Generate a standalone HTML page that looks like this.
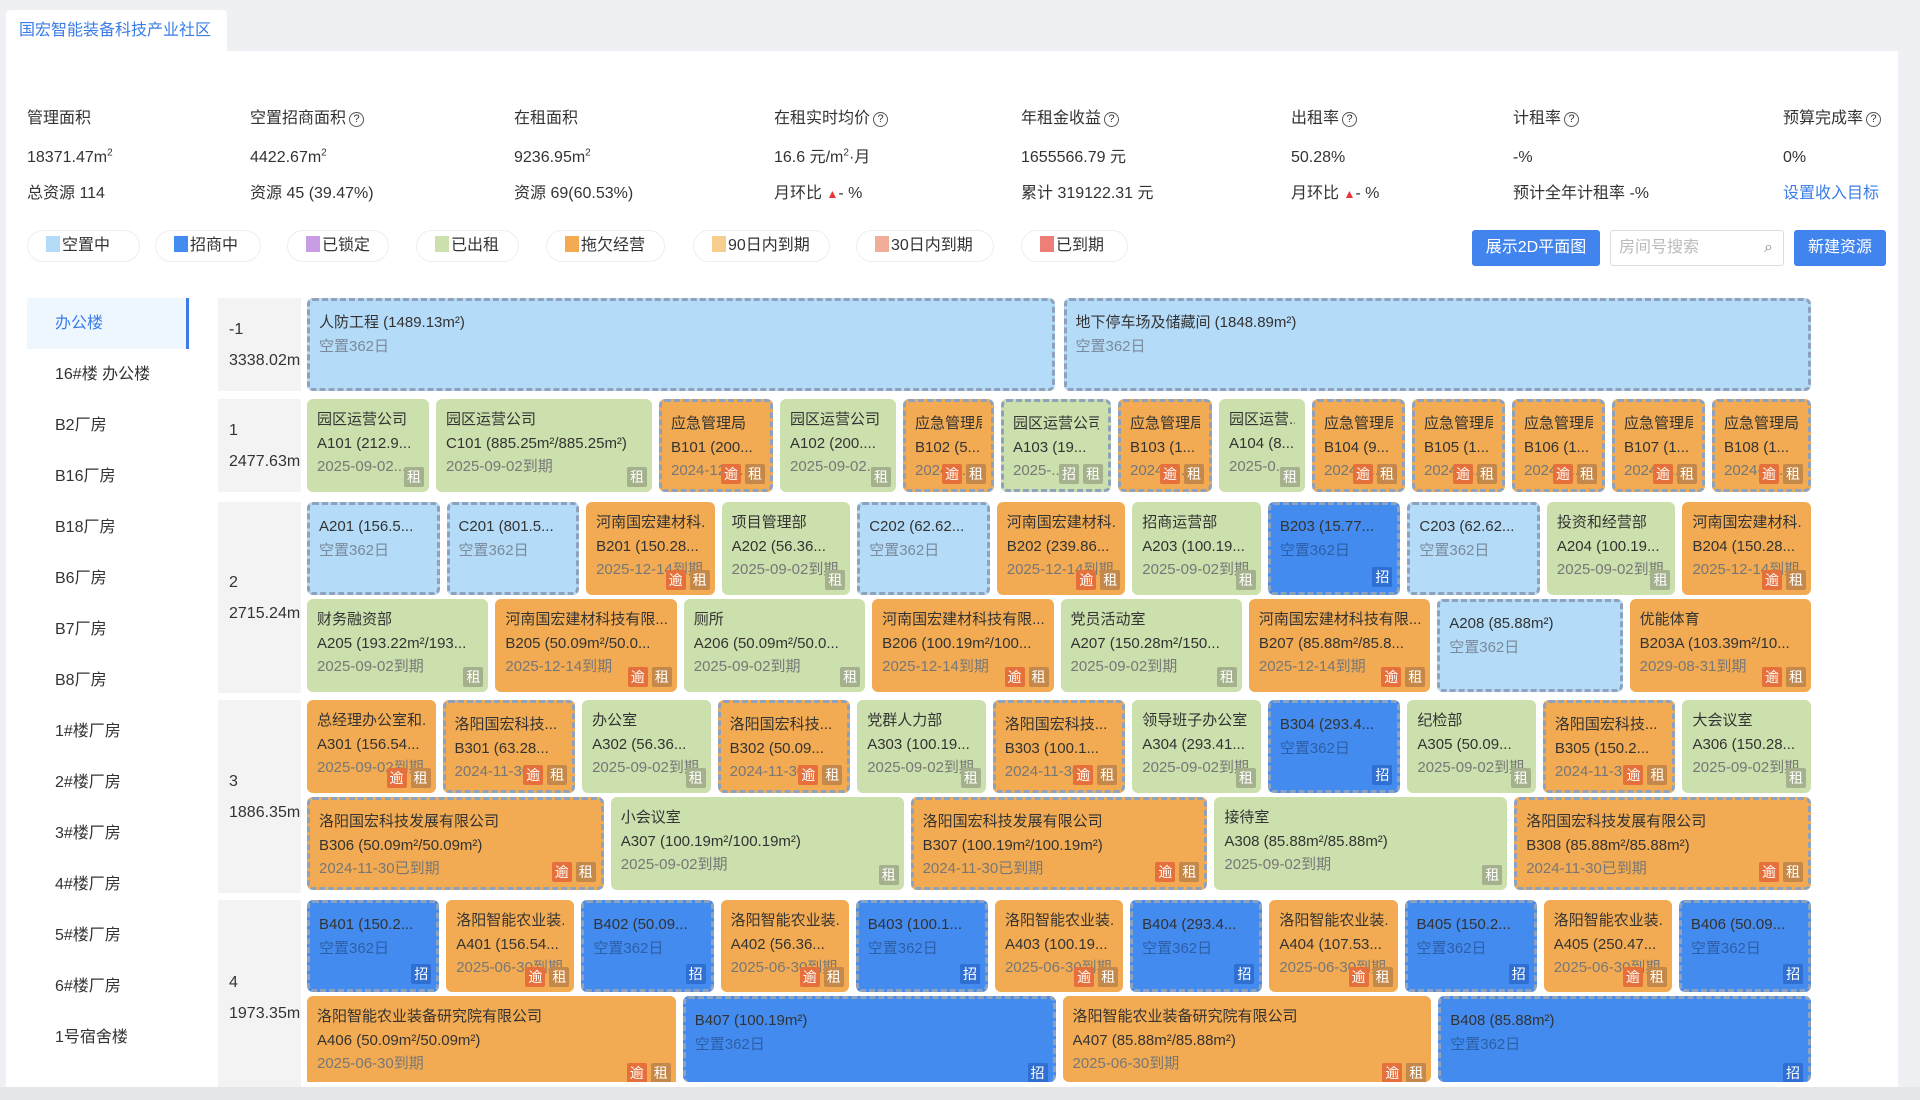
<!DOCTYPE html>
<html><head><meta charset="utf-8">
<style>
*{box-sizing:border-box;margin:0;padding:0}
body{width:1920px;height:1100px;overflow:hidden;background:#eef0f4;font-family:"Liberation Sans","Noto Sans CJK SC",sans-serif;color:#333;position:relative}
.abs{position:absolute}
#panel{left:6px;top:51px;width:1892px;height:1036px;background:#fff}
#tab{left:6px;top:10px;width:221px;height:42px;background:#fff;border-radius:4px 4px 0 0;color:#3a7de8;font-size:16px;line-height:42px;padding-left:13px}
.st{font-size:16px;color:#333;white-space:nowrap;line-height:20px;height:20px}
.st sup{line-height:0;font-size:10px}
.q{display:inline-block;width:15px;height:15px;border:1.3px solid #555;border-radius:50%;font-size:11px;line-height:13px;text-align:center;vertical-align:1px;margin-left:3px}
.up{color:#e33;font-size:12px}
.chip{top:230px;height:32px;border:1px solid #eee;border-radius:16px;font-size:16px;line-height:30px;padding-left:18px;white-space:nowrap}
.chip i{display:inline-block;width:14px;height:16px;vertical-align:-2px;margin-right:2px}
.btn{top:230px;height:36px;background:#4284ee;color:#fff;border-radius:3px;font-size:16px;line-height:36px;text-align:center}
.side{left:27px;width:162px;height:51px;font-size:16px;line-height:51px;padding-left:28px;color:#333}
.lab{left:218px;width:83px;background:#f3f3f3;font-size:16px;line-height:31px;padding-left:11px;display:flex;flex-direction:column;justify-content:center;white-space:nowrap}
.row{left:307px;width:1504px;height:93px;display:flex;gap:7px}
.c{position:relative;height:93px;border-radius:6px;padding:9px 10px 0 10px;font-size:15px;line-height:23.5px;overflow:hidden;white-space:nowrap;flex:1 1 0;min-width:0}
.c div{overflow:hidden;text-overflow:clip}
.c .t3{color:#777}
.g{background:#cbe0ad}
.o{background:#f2ab52}
.lb{background:#b4dbf8}
.b{background:#448bf0}
.d{border:3px dashed #8fa2bc;padding:10px 9px 0 9px}
.lb .t2,.b .t2{color:#7a8a9a}
.b .t2{color:#2b5fa8}
.bd{position:absolute;right:5px;bottom:5px;display:flex;gap:4px}
.bd span{width:20px;height:20px;border-radius:2px;color:#fff;font-size:14px;line-height:20px;text-align:center}
.y{background:#e5703c}
.z{background:#a5b08d}
.o .z{background:#c4894a}
.zs{background:#2f6fd2}
</style></head><body>
<div class="abs" id="panel"></div>
<div class="abs" id="tab">国宏智能装备科技产业社区</div>
<div class="abs" style="left:1898px;top:51px;width:22px;height:1049px;background:#eef0f4"></div>

<!-- stats -->
<div class="abs st" style="left:27px;top:109px">管理面积</div>
<div class="abs st" style="left:27px;top:148px">18371.47m<sup>2</sup></div>
<div class="abs st" style="left:27px;top:184px">总资源 114</div>
<div class="abs st" style="left:250px;top:109px">空置招商面积<span class="q">?</span></div>
<div class="abs st" style="left:250px;top:148px">4422.67m<sup>2</sup></div>
<div class="abs st" style="left:250px;top:184px">资源 45 (39.47%)</div>
<div class="abs st" style="left:514px;top:109px">在租面积</div>
<div class="abs st" style="left:514px;top:148px">9236.95m<sup>2</sup></div>
<div class="abs st" style="left:514px;top:184px">资源 69(60.53%)</div>
<div class="abs st" style="left:774px;top:109px">在租实时均价<span class="q">?</span></div>
<div class="abs st" style="left:774px;top:148px">16.6 元/m<sup>2</sup>·月</div>
<div class="abs st" style="left:774px;top:184px">月环比 <span class="up">▲</span>- %</div>
<div class="abs st" style="left:1021px;top:109px">年租金收益<span class="q">?</span></div>
<div class="abs st" style="left:1021px;top:148px">1655566.79 元</div>
<div class="abs st" style="left:1021px;top:184px">累计 319122.31 元</div>
<div class="abs st" style="left:1291px;top:109px">出租率<span class="q">?</span></div>
<div class="abs st" style="left:1291px;top:148px">50.28%</div>
<div class="abs st" style="left:1291px;top:184px">月环比 <span class="up">▲</span>- %</div>
<div class="abs st" style="left:1513px;top:109px">计租率<span class="q">?</span></div>
<div class="abs st" style="left:1513px;top:148px">-%</div>
<div class="abs st" style="left:1513px;top:184px">预计全年计租率 -%</div>
<div class="abs st" style="left:1783px;top:109px">预算完成率<span class="q">?</span></div>
<div class="abs st" style="left:1783px;top:148px">0%</div>
<div class="abs st" style="left:1783px;top:184px;color:#3a7de8">设置收入目标</div>

<!-- legend -->
<div class="abs chip" style="left:27px;width:113px"><i style="background:#b4dbf8"></i>空置中</div>
<div class="abs chip" style="left:155px;width:106px"><i style="background:#448bf0"></i>招商中</div>
<div class="abs chip" style="left:287px;width:102px"><i style="background:#c79ee6"></i>已锁定</div>
<div class="abs chip" style="left:416px;width:103px"><i style="background:#cbe0ad"></i>已出租</div>
<div class="abs chip" style="left:546px;width:119px"><i style="background:#f2ab52"></i>拖欠经营</div>
<div class="abs chip" style="left:693px;width:137px"><i style="background:#f6cf8e"></i>90日内到期</div>
<div class="abs chip" style="left:856px;width:138px"><i style="background:#f0ae96"></i>30日内到期</div>
<div class="abs chip" style="left:1021px;width:107px"><i style="background:#ee7f78"></i>已到期</div>
<div class="abs btn" style="left:1472px;width:128px">展示2D平面图</div>
<div class="abs" style="left:1610px;top:230px;width:174px;height:36px;border:1px solid #ddd;border-radius:3px;font-size:16px;line-height:34px;padding-left:8px;color:#bbb">房间号搜索<span style="position:absolute;right:10px;top:0;color:#888">&#x2315;</span></div>
<div class="abs btn" style="left:1794px;width:92px">新建资源</div>

<!-- sidebar -->
<div class="abs side" style="top:298px;background:#eef6fe;color:#3a7de8;border-right:3px solid #3a7de8">办公楼</div>
<div class="abs side" style="top:349px">16#楼 办公楼</div>
<div class="abs side" style="top:400px">B2厂房</div>
<div class="abs side" style="top:451px">B16厂房</div>
<div class="abs side" style="top:502px">B18厂房</div>
<div class="abs side" style="top:553px">B6厂房</div>
<div class="abs side" style="top:604px">B7厂房</div>
<div class="abs side" style="top:655px">B8厂房</div>
<div class="abs side" style="top:706px">1#楼厂房</div>
<div class="abs side" style="top:757px">2#楼厂房</div>
<div class="abs side" style="top:808px">3#楼厂房</div>
<div class="abs side" style="top:859px">4#楼厂房</div>
<div class="abs side" style="top:910px">5#楼厂房</div>
<div class="abs side" style="top:961px">6#楼厂房</div>
<div class="abs side" style="top:1012px">1号宿舍楼</div>

<!-- floor labels -->
<div class="abs lab" style="top:298px;height:93px"><div>-1</div><div>3338.02m</div></div>
<div class="abs lab" style="top:399px;height:93px"><div>1</div><div>2477.63m</div></div>
<div class="abs lab" style="top:502px;height:191px"><div>2</div><div>2715.24m</div></div>
<div class="abs lab" style="top:700px;height:193px"><div>3</div><div>1886.35m</div></div>
<div class="abs lab" style="top:900px;height:187px;padding-top:8px"><div>4</div><div>1973.35m</div></div>

<!-- floor -1 -->
<div class="abs row" style="top:298px;gap:9px">
<div class="c lb d"><div>人防工程 (1489.13m²)</div><div class="t2">空置362日</div></div>
<div class="c lb d"><div>地下停车场及储藏间 (1848.89m²)</div><div class="t2">空置362日</div></div>
</div>

<!-- floor 1 -->
<div class="abs row" style="top:399px">
<div class="c g" style="flex:0 0 122px"><div>园区运营公司</div><div>A101 (212.9...</div><div class="t3">2025-09-02...</div><div class="bd"><span class="z">租</span></div></div>
<div class="c g" style="flex:0 0 216px"><div>园区运营公司</div><div>C101 (885.25m²/885.25m²)</div><div class="t3">2025-09-02到期</div><div class="bd"><span class="z">租</span></div></div>
<div class="c o d" style="flex:0 0 114px"><div>应急管理局</div><div>B101 (200...</div><div class="t3">2024-12-3...</div><div class="bd"><span class="y">逾</span><span class="z">租</span></div></div>
<div class="c g" style="flex:0 0 116px"><div>园区运营公司</div><div>A102 (200....</div><div class="t3">2025-09-02...</div><div class="bd"><span class="z">租</span></div></div>
<div class="c o d" style="flex:0 0 91px"><div>应急管理局</div><div>B102 (5...</div><div class="t3">2024-1...</div><div class="bd"><span class="y">逾</span><span class="z">租</span></div></div>
<div class="c g d" style="flex:0 0 110px"><div>园区运营公司</div><div>A103 (19...</div><div class="t3">2025-...</div><div class="bd"><span class="z">招</span><span class="z">租</span></div></div>
<div class="c o d" style="flex:0 0 94px"><div>应急管理局</div><div>B103 (1...</div><div class="t3">2024-1...</div><div class="bd"><span class="y">逾</span><span class="z">租</span></div></div>
<div class="c g" style="flex:0 0 86px"><div>园区运营...</div><div>A104 (8...</div><div class="t3">2025-0...</div><div class="bd"><span class="z">租</span></div></div>
<div class="c o d" style="flex:0 0 93px"><div>应急管理局</div><div>B104 (9...</div><div class="t3">2024-1...</div><div class="bd"><span class="y">逾</span><span class="z">租</span></div></div>
<div class="c o d" style="flex:0 0 93px"><div>应急管理局</div><div>B105 (1...</div><div class="t3">2024-1...</div><div class="bd"><span class="y">逾</span><span class="z">租</span></div></div>
<div class="c o d" style="flex:0 0 93px"><div>应急管理局</div><div>B106 (1...</div><div class="t3">2024-1...</div><div class="bd"><span class="y">逾</span><span class="z">租</span></div></div>
<div class="c o d" style="flex:0 0 93px"><div>应急管理局</div><div>B107 (1...</div><div class="t3">2024-1...</div><div class="bd"><span class="y">逾</span><span class="z">租</span></div></div>
<div class="c o d" style="flex:1 1 0"><div>应急管理局</div><div>B108 (1...</div><div class="t3">2024-1...</div><div class="bd"><span class="y">逾</span><span class="z">租</span></div></div>
</div>

<!-- floor 2 -->
<div class="abs row" style="top:502px">
<div class="c lb d"><div>A201 (156.5...</div><div class="t2">空置362日</div></div>
<div class="c lb d"><div>C201 (801.5...</div><div class="t2">空置362日</div></div>
<div class="c o"><div>河南国宏建材科...</div><div>B201 (150.28...</div><div class="t3">2025-12-14到期</div><div class="bd"><span class="y">逾</span><span class="z">租</span></div></div>
<div class="c g"><div>项目管理部</div><div>A202 (56.36...</div><div class="t3">2025-09-02到期</div><div class="bd"><span class="z">租</span></div></div>
<div class="c lb d"><div>C202 (62.62...</div><div class="t2">空置362日</div></div>
<div class="c o"><div>河南国宏建材科...</div><div>B202 (239.86...</div><div class="t3">2025-12-14到期</div><div class="bd"><span class="y">逾</span><span class="z">租</span></div></div>
<div class="c g"><div>招商运营部</div><div>A203 (100.19...</div><div class="t3">2025-09-02到期</div><div class="bd"><span class="z">租</span></div></div>
<div class="c b d"><div>B203 (15.77...</div><div class="t2">空置362日</div><div class="bd"><span class="zs">招</span></div></div>
<div class="c lb d"><div>C203 (62.62...</div><div class="t2">空置362日</div></div>
<div class="c g"><div>投资和经营部</div><div>A204 (100.19...</div><div class="t3">2025-09-02到期</div><div class="bd"><span class="z">租</span></div></div>
<div class="c o"><div>河南国宏建材科...</div><div>B204 (150.28...</div><div class="t3">2025-12-14到期</div><div class="bd"><span class="y">逾</span><span class="z">租</span></div></div>
</div>
<div class="abs row" style="top:599px;height:94px">
<div class="c g"><div>财务融资部</div><div>A205 (193.22m²/193...</div><div class="t3">2025-09-02到期</div><div class="bd"><span class="z">租</span></div></div>
<div class="c o"><div>河南国宏建材科技有限...</div><div>B205 (50.09m²/50.0...</div><div class="t3">2025-12-14到期</div><div class="bd"><span class="y">逾</span><span class="z">租</span></div></div>
<div class="c g"><div>厕所</div><div>A206 (50.09m²/50.0...</div><div class="t3">2025-09-02到期</div><div class="bd"><span class="z">租</span></div></div>
<div class="c o"><div>河南国宏建材科技有限...</div><div>B206 (100.19m²/100...</div><div class="t3">2025-12-14到期</div><div class="bd"><span class="y">逾</span><span class="z">租</span></div></div>
<div class="c g"><div>党员活动室</div><div>A207 (150.28m²/150...</div><div class="t3">2025-09-02到期</div><div class="bd"><span class="z">租</span></div></div>
<div class="c o"><div>河南国宏建材科技有限...</div><div>B207 (85.88m²/85.8...</div><div class="t3">2025-12-14到期</div><div class="bd"><span class="y">逾</span><span class="z">租</span></div></div>
<div class="c lb d"><div>A208 (85.88m²)</div><div class="t2">空置362日</div></div>
<div class="c o"><div>优能体育</div><div>B203A (103.39m²/10...</div><div class="t3">2029-08-31到期</div><div class="bd"><span class="y">逾</span><span class="z">租</span></div></div>
</div>

<!-- floor 3 -->
<div class="abs row" style="top:700px">
<div class="c o"><div>总经理办公室和...</div><div>A301 (156.54...</div><div class="t3">2025-09-02到期</div><div class="bd"><span class="y">逾</span><span class="z">租</span></div></div>
<div class="c o d"><div>洛阳国宏科技...</div><div>B301 (63.28...</div><div class="t3">2024-11-30...</div><div class="bd"><span class="y">逾</span><span class="z">租</span></div></div>
<div class="c g"><div>办公室</div><div>A302 (56.36...</div><div class="t3">2025-09-02到期</div><div class="bd"><span class="z">租</span></div></div>
<div class="c o d"><div>洛阳国宏科技...</div><div>B302 (50.09...</div><div class="t3">2024-11-30...</div><div class="bd"><span class="y">逾</span><span class="z">租</span></div></div>
<div class="c g"><div>党群人力部</div><div>A303 (100.19...</div><div class="t3">2025-09-02到期</div><div class="bd"><span class="z">租</span></div></div>
<div class="c o d"><div>洛阳国宏科技...</div><div>B303 (100.1...</div><div class="t3">2024-11-30...</div><div class="bd"><span class="y">逾</span><span class="z">租</span></div></div>
<div class="c g"><div>领导班子办公室</div><div>A304 (293.41...</div><div class="t3">2025-09-02到期</div><div class="bd"><span class="z">租</span></div></div>
<div class="c b d"><div>B304 (293.4...</div><div class="t2">空置362日</div><div class="bd"><span class="zs">招</span></div></div>
<div class="c g"><div>纪检部</div><div>A305 (50.09...</div><div class="t3">2025-09-02到期</div><div class="bd"><span class="z">租</span></div></div>
<div class="c o d"><div>洛阳国宏科技...</div><div>B305 (150.2...</div><div class="t3">2024-11-30...</div><div class="bd"><span class="y">逾</span><span class="z">租</span></div></div>
<div class="c g"><div>大会议室</div><div>A306 (150.28...</div><div class="t3">2025-09-02到期</div><div class="bd"><span class="z">租</span></div></div>
</div>
<div class="abs row" style="top:797px">
<div class="c o d"><div>洛阳国宏科技发展有限公司</div><div>B306 (50.09m²/50.09m²)</div><div class="t3">2024-11-30已到期</div><div class="bd"><span class="y">逾</span><span class="z">租</span></div></div>
<div class="c g"><div>小会议室</div><div>A307 (100.19m²/100.19m²)</div><div class="t3">2025-09-02到期</div><div class="bd"><span class="z">租</span></div></div>
<div class="c o d"><div>洛阳国宏科技发展有限公司</div><div>B307 (100.19m²/100.19m²)</div><div class="t3">2024-11-30已到期</div><div class="bd"><span class="y">逾</span><span class="z">租</span></div></div>
<div class="c g"><div>接待室</div><div>A308 (85.88m²/85.88m²)</div><div class="t3">2025-09-02到期</div><div class="bd"><span class="z">租</span></div></div>
<div class="c o d"><div>洛阳国宏科技发展有限公司</div><div>B308 (85.88m²/85.88m²)</div><div class="t3">2024-11-30已到期</div><div class="bd"><span class="y">逾</span><span class="z">租</span></div></div>
</div>

<!-- floor 4 -->
<div class="abs row" style="top:900px;height:92px">
<div class="c b d" style="height:92px"><div>B401 (150.2...</div><div class="t2">空置362日</div><div class="bd"><span class="zs">招</span></div></div>
<div class="c o" style="height:92px"><div>洛阳智能农业装...</div><div>A401 (156.54...</div><div class="t3">2025-06-30到期</div><div class="bd"><span class="y">逾</span><span class="z">租</span></div></div>
<div class="c b d" style="height:92px"><div>B402 (50.09...</div><div class="t2">空置362日</div><div class="bd"><span class="zs">招</span></div></div>
<div class="c o" style="height:92px"><div>洛阳智能农业装...</div><div>A402 (56.36...</div><div class="t3">2025-06-30到期</div><div class="bd"><span class="y">逾</span><span class="z">租</span></div></div>
<div class="c b d" style="height:92px"><div>B403 (100.1...</div><div class="t2">空置362日</div><div class="bd"><span class="zs">招</span></div></div>
<div class="c o" style="height:92px"><div>洛阳智能农业装...</div><div>A403 (100.19...</div><div class="t3">2025-06-30到期</div><div class="bd"><span class="y">逾</span><span class="z">租</span></div></div>
<div class="c b d" style="height:92px"><div>B404 (293.4...</div><div class="t2">空置362日</div><div class="bd"><span class="zs">招</span></div></div>
<div class="c o" style="height:92px"><div>洛阳智能农业装...</div><div>A404 (107.53...</div><div class="t3">2025-06-30到期</div><div class="bd"><span class="y">逾</span><span class="z">租</span></div></div>
<div class="c b d" style="height:92px"><div>B405 (150.2...</div><div class="t2">空置362日</div><div class="bd"><span class="zs">招</span></div></div>
<div class="c o" style="height:92px"><div>洛阳智能农业装...</div><div>A405 (250.47...</div><div class="t3">2025-06-30到期</div><div class="bd"><span class="y">逾</span><span class="z">租</span></div></div>
<div class="c b d" style="height:92px"><div>B406 (50.09...</div><div class="t2">空置362日</div><div class="bd"><span class="zs">招</span></div></div>
</div>
<div class="abs row" style="top:996px;height:86px;overflow:hidden">
<div class="c o" style="height:86px;border-radius:6px 6px 0 0"><div>洛阳智能农业装备研究院有限公司</div><div>A406 (50.09m²/50.09m²)</div><div class="t3">2025-06-30到期</div><div class="bd" style="bottom:-1px"><span class="y">逾</span><span class="z">租</span></div></div>
<div class="c b d" style="height:86px;border-bottom:none"><div>B407 (100.19m²)</div><div class="t2">空置362日</div><div class="bd" style="bottom:-1px"><span class="zs">招</span></div></div>
<div class="c o" style="height:86px"><div>洛阳智能农业装备研究院有限公司</div><div>A407 (85.88m²/85.88m²)</div><div class="t3">2025-06-30到期</div><div class="bd" style="bottom:-1px"><span class="y">逾</span><span class="z">租</span></div></div>
<div class="c b d" style="height:86px;border-bottom:none"><div>B408 (85.88m²)</div><div class="t2">空置362日</div><div class="bd" style="bottom:-1px"><span class="zs">招</span></div></div>
</div>
<div class="abs" style="left:0;top:1087px;width:1920px;height:13px;background:#e4e6ea"></div>
</body></html>
